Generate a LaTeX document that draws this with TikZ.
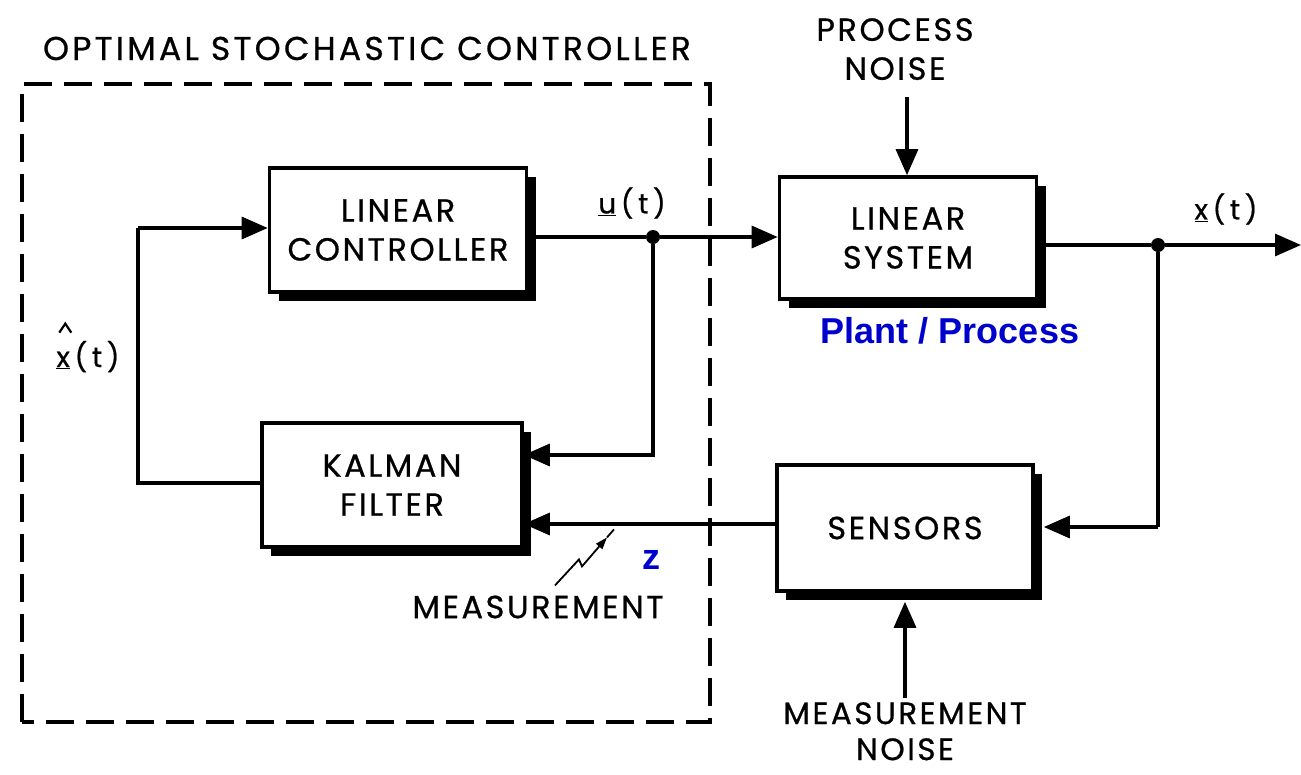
\documentclass[tikz,border=0pt]{standalone}
\usepackage{fontspec}
\setmainfont{Poppins}[FakeBold=0.7]
\newfontfamily\boxff{Poppins}[FakeBold=0.7,LetterSpace=8]
\newfontfamily\titleff{Poppins}[FakeBold=0.7,LetterSpace=10]
\newfontfamily\blfont{Liberation Sans}
\usetikzlibrary{arrows.meta,shadows}
\definecolor{blu}{RGB}{0,0,204}
\newcommand{\boxfont}{\boxff\fontsize{32}{39}\selectfont}
\newcommand{\lblfont}{\fontsize{28}{30}\selectfont}
\begin{document}
\begin{tikzpicture}[x=1pt,y=-1pt,
  blk/.style={draw, line width=3.6pt, fill=white, align=center, font=\boxfont,
    inner sep=0pt, drop shadow={shadow xshift=9pt, shadow yshift=-9pt, fill=black, opacity=1}},
  wire/.style={line width=3.2pt},
  arr/.style={wire, -{Triangle[length=26pt,width=22pt]}},
  plain/.style={font=\boxfont, inner sep=0pt, align=center},
  sig/.style={font=\lblfont, inner sep=0pt},
  blue/.style={font=\blfont\bfseries\fontsize{36}{40}\selectfont, text=blu, inner sep=0pt},
  dotc/.style={circle, fill=black, minimum size=14pt, inner sep=0pt}
]
\useasboundingbox (0,0) rectangle (1301,774);
% dashed frame
\node[font=\titleff\fontsize{33}{40}\selectfont, inner sep=0pt, anchor=base] (title) at (367,60) {OPTIMAL STOCHASTIC CONTROLLER};
\draw[line width=3.4pt, dash pattern=on 28pt off 12pt] (22,722) -- (22,84) -- (710,84) -- (710,722) -- cycle;
% blocks
\node[blk, minimum width=257pt, minimum height=124pt] (ctrl) at (398,230) {LINEAR\\CONTROLLER};
\node[blk, minimum width=260pt, minimum height=124pt] (kf) at (392,485) {KALMAN\\FILTER};
\node[blk, minimum width=257pt, minimum height=122pt] (sys) at (908,238) {LINEAR\\SYSTEM};
\node[blk, minimum width=256pt, minimum height=126pt] (sen) at (905,528) {SENSORS};
% texts
\node[plain, anchor=north] (pn) at (895,18) {PROCESS\\NOISE};
\node[plain, anchor=north, font=\boxff\fontsize{31}{36}\selectfont] (mn) at (905,702) {MEASUREMENT\\NOISE};
\node[plain] (meas) at (538,607) {MEASUREMENT};
\node[blue] (plant) at (950,331) {Plant / Process};
\node[blue] (z) at (651,560) {z};
\node[sig] (ut) at (632,203) {\underline{u}\,(\,t\,)};
\node[sig] (xt) at (1226,209) {\underline{x}\,(\,t\,)};
\node[sig, anchor=base] (xh) at (88,367) {\underline{x}\,(\,t\,)};
\draw[line width=2.2pt] (xh.north west) ++(3,-8) -- ++(6,-9) -- ++(6,9);
% coordinates
\node[dotc] (d1) at (653,237) {};
\node[dotc] (d2) at (1158,245) {};
\coordinate (c1) at (653,455);
\coordinate (c2) at (138,483);
\coordinate (c3) at (138,228);
\coordinate (c4) at (1158,527);
\coordinate (out) at (1301,245);
\coordinate (pntop) at (907,97);
\coordinate (mnbot) at (905,698);
% connectors
\draw[wire] (ctrl.east |- d1) -- (d1);
\draw[arr] (d1) -- (sys.west |- d1);
\draw[arr] (d1) -- (c1) -- (kf.east |- c1);
\draw[wire] (kf.west |- c2) -- (c2) -- (c3);
\draw[arr] (c3) -- (ctrl.west |- c3);
\draw[wire] (sys.east |- d2) -- (d2);
\draw[arr] (d2) -- (out);
\draw[wire] (d2) -- (c4);
\draw[arr] (c4) -- ([xshift=9pt]sen.east |- c4);
\draw[arr] (sen.west |- 0,524) -- (kf.east |- 0,524);
\draw[arr] (pntop) -- (sys.north -| pntop);
\draw[arr] (mnbot) -- ([yshift=-9pt]sen.south -| mnbot);
% lightning
\draw[line width=1.8pt, -{Triangle[length=12pt,width=8pt]}] (meas.north) ++(17,-10) -- ++(24,-26) -- ++(3,7) -- ++(25,-29);
\draw[line width=1.8pt] (meas.north) ++(69,-58) -- ++(7,-8);
\end{tikzpicture}
\end{document}
